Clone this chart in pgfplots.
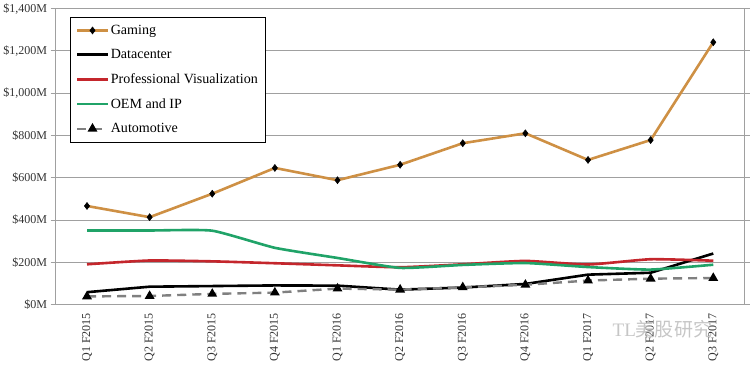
\documentclass[border=0pt]{standalone}
\usepackage{pgfplots}
\pgfplotsset{compat=1.18}
\usepackage{fontspec}
\setmainfont{Liberation Serif}
\newfontfamily\cjk{Noto Sans CJK SC}
\definecolor{gaming}{RGB}{206,144,68}
\definecolor{provis}{RGB}{196,38,44}
\definecolor{oem}{RGB}{32,163,104}
\definecolor{autogray}{RGB}{128,128,128}
\definecolor{gridc}{RGB}{160,160,160}
\begin{document}
\begin{tikzpicture}
\begin{axis}[
  scale only axis, width=687pt, height=295pt,
  xmin=-0.5, xmax=10.5, ymin=0, ymax=1400,
  xtick={0,...,10},
  xticklabels={Q1 F2015,Q2 F2015,Q3 F2015,Q4 F2015,Q1 F2016,Q2 F2016,Q3 F2016,Q4 F2016,Q1 F2017,Q2 F2017,Q3 F2017},
  xticklabel style={rotate=90, anchor=east, font=\fontsize{12}{13}\selectfont, text=black!80},
  major x tick style={draw=none},
  ytick={0,200,400,600,800,1000,1200,1400},
  yticklabels={\$0M,\$200M,\$400M,\$600M,\$800M,\$1{,}000M,\$1{,}200M,\$1{,}400M},
  yticklabel style={font=\fontsize{12}{13}\selectfont, text=black!80},
  /pgf/number format/assume math mode=true,
  ymajorgrids, grid style={gridc, line width=0.8pt},
  axis line style={gridc, line width=0.8pt},
  major y tick style={gridc, line width=0.8pt},
  tick align=outside, major tick length=5pt,
  legend style={at={(0.0204,0.973)}, anchor=north west, draw=black, line width=0.8pt,
    font=\fontsize{14}{16}\selectfont, row sep=9.5pt, inner xsep=6pt, inner ysep=6pt,
    legend cell align=left},
  legend image code/.code={\draw[#1] (0pt,0pt) -- (15pt,0pt) plot coordinates {(15pt,0pt)} -- (30pt,0pt);},
]
\addplot[gaming, line width=2.6pt, mark=diamond*, mark size=3.5pt, mark options={fill=black, draw=black, line width=0.5pt}]
  coordinates {(0,466) (1,413) (2,524) (3,646) (4,588) (5,661) (6,763) (7,810) (8,684) (9,778) (10,1241)};
\addlegendentry{Gaming}
\addplot[black, line width=2.6pt]
  coordinates {(0,58) (1,84) (2,87) (3,90) (4,89) (5,70) (6,80) (7,97) (8,141) (9,150) (10,241)};
\addlegendentry{Datacenter}
\addplot[provis, line width=2.6pt, smooth, tension=0.3]
  coordinates {(0,190) (1,208) (2,204) (3,195) (4,185) (5,176) (6,190) (7,206) (8,189) (9,214) (10,207)};
\addlegendentry{Professional Visualization}
\addplot[oem, line width=2.6pt, smooth, tension=0.3]
  coordinates {(0,350) (1,350) (2,349) (3,268) (4,220) (5,173) (6,187) (7,196) (8,177) (9,165) (10,188)};
\addlegendentry{OEM and IP}
\addplot[autogray, line width=2.4pt, dashed, dash pattern=on 9pt off 6pt, mark=triangle*, mark size=3.3pt, mark options={solid, fill=black, draw=black}]
  coordinates {(0,38) (1,40) (2,50) (3,56) (4,75) (5,70) (6,81) (7,93) (8,113) (9,122) (10,125)};
\addlegendentry{Automotive}
\end{axis}
\node[text=gray!45, font=\fontsize{19}{20}\selectfont] at ([xshift=-82pt,yshift=-25pt]current axis.south east) {TL\cjk{美股研究}};
\path ([shift={(5pt,8pt)}]current axis.north east) circle (0pt);
\path ([shift={(-55pt,-58pt)}]current axis.south west) circle (0pt);
\end{tikzpicture}
\end{document}
